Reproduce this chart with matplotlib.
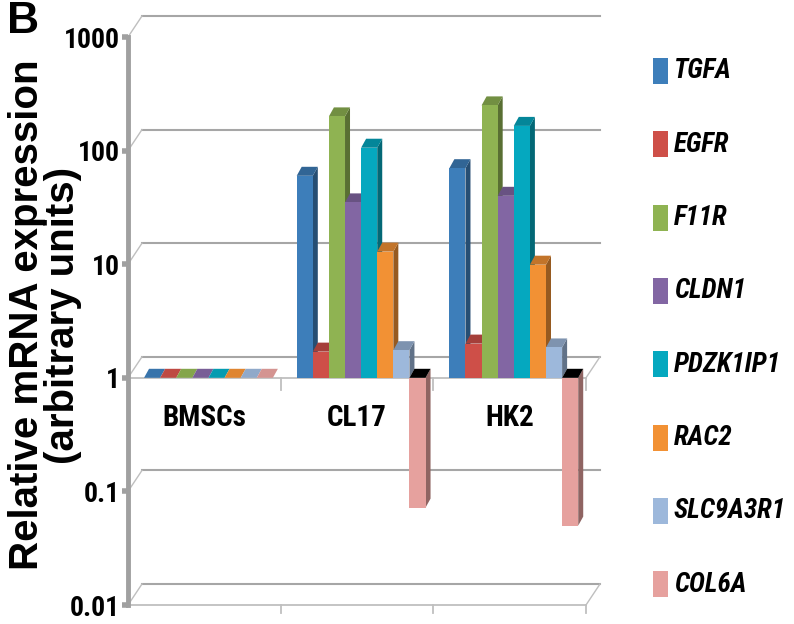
import matplotlib
matplotlib.use("Agg")
import matplotlib.pyplot as plt
import numpy as np
from matplotlib.patches import Polygon, Rectangle
from matplotlib.lines import Line2D
from matplotlib.transforms import IdentityTransform
import matplotlib.colors as mcolors

# data (relative expression, log axis, baseline 1)
groups = ["BMSCs", "CL17", "HK2"]
genes = ["TGFA", "EGFR", "F11R", "CLDN1", "PDZK1IP1", "RAC2", "SLC9A3R1", "COL6A"]
bmscs = [1, 1, 1, 1, 1, 1, 1, 1]
cl17 = [60, 1.7, 200, 35, 106, 12.9, 1.75, 0.072]
hk2 = [70, 2.0, 250, 40, 165, 9.9, 1.85, 0.050]
colors = ["#3D7EBA", "#CE4F48", "#8FB352", "#8266A3", "#05A8BF", "#F29134", "#9DB8DB", "#E6A19E"]
decades = [0.01, 0.1, 1, 10, 100, 1000]
dec_labels = ["0.01", "0.1", "1", "10", "100", "1000"]

narrow = ["Roboto Condensed", "IBM Plex Sans Condensed", "Liberation Sans Narrow", "DejaVu Sans"]
sans = ["Liberation Sans", "DejaVu Sans"]
W, H = 794, 624
fig = plt.figure(figsize=(W / 100, H / 100), dpi=100)
ax = fig.add_axes([128 / W, 19 / H, 458 / W, 568 / H])
ax.set_yscale("log")
ax.set_xlim(0, 3)
ax.set_ylim(0.01, 1000)
ax.set_autoscale_on(False)

for s in ["top", "right", "bottom"]:
    ax.spines[s].set_visible(False)
ax.spines["left"].set_color("#A0A0A0")
ax.spines["left"].set_linewidth(3.5)
ax.set_yticks(decades)
ax.set_yticklabels(dec_labels, fontfamily=narrow, fontweight="bold", fontsize=20)
ax.minorticks_off()
ax.tick_params(axis="y", length=4, width=4, color="#A0A0A0", pad=2)
ax.set_xticks([])

wall = np.array([14.0, 21.0])   # depth of the back wall (px)
depth = np.array([5.0, 9.0])    # depth of each column (px)


def px(x, y):
    return ax.transData.transform((x, y))


def line(pts, **kw):
    pts = np.array(pts)
    ax.add_artist(Line2D(pts[:, 0], pts[:, 1], transform=IdentityTransform(),
                         clip_on=False, **kw))


def poly(pts, color, z):
    ax.add_artist(Polygon(np.array(pts), closed=True, facecolor=color, edgecolor="none",
                          transform=IdentityTransform(), clip_on=False, zorder=z))


def shade(c, f):
    r, g, b = mcolors.to_rgb(c)
    return (r * f, g * f, b * f)


# back wall gridlines + left wall diagonals
for v in decades:
    a = px(0, v)
    b = px(3, v)
    line([a + wall, b + wall], color="#A6A6A6", lw=1.5, zorder=1)
    line([a, a + wall], color="#BFBFBF", lw=1.0, zorder=1)

# floors at 1 and 0.01 with category ticks
for v, tl in [(1, 12), (0.01, 8)]:
    a = px(0, v)
    b = px(3, v)
    line([a, b], color="#BFBFBF", lw=1.3, zorder=1)
    line([b, b + wall], color="#BFBFBF", lw=1.0, zorder=1)
    for x in [1, 2, 3]:
        p = px(x, v)
        line([p, p - [0, tl]], color="#BFBFBF", lw=1.3, zorder=1)

# columns
w = 0.1055
shift = 0.027
for i, vals in enumerate([bmscs, cl17, hk2]):
    for j, v in enumerate(vals):
        xc = i + 0.5 + (j - 3.5) * w + shift
        z = 3 + j * 0.01
        bar = ax.bar(xc, v - 1, width=w, bottom=1, color=colors[j], zorder=z + 0.002)[0]
        x0, x1 = bar.get_x(), bar.get_x() + bar.get_width()
        bl, br = px(x0, 1), px(x1, 1)
        tl_, tr = px(x0, v), px(x1, v)
        if v == 1:
            poly([bl, br, br + depth, bl + depth], shade(colors[j], 0.92), z)
        elif v > 1:
            poly([br, tr, tr + depth, br + depth], shade(colors[j], 0.62), z)
            poly([tl_, tr, tr + depth, tl_ + depth], shade(colors[j], 0.8), z + 0.001)
        else:
            poly([tr, br, br + depth, tr + depth], shade(colors[j], 0.62), z)
            poly([bl, br, br + depth, bl + depth], "black", z + 0.001)

# category labels
for i, g in enumerate(groups):
    p = px(i + 0.5, 1)
    ax.text(p[0], p[1] - 40, g, transform=IdentityTransform(), ha="center", va="center",
            fontfamily=narrow, fontweight="bold", fontsize=21)

# axis title and panel letter
fig.text(27 / W, 1 - 315 / H, "Relative mRNA expression", rotation=90, ha="center",
         va="center", fontfamily=sans, fontweight="bold", fontsize=29)
fig.text(63 / W, 1 - 315 / H, "(arbitrary units)", rotation=90, ha="center",
         va="center", fontfamily=sans, fontweight="bold", fontsize=29)
fig.text(7 / W, 1 - 1 / H, "B", ha="left", va="top",
         fontfamily=sans, fontweight="bold", fontsize=32)

# legend
for k, (g, c) in enumerate(zip(genes, colors)):
    yc = 1 - (71 + k * 73.3) / H
    fig.patches.append(Rectangle((653 / W, yc - 13 / H), 15 / W, 26 / H, facecolor=c,
                                 edgecolor="none", transform=fig.transFigure))
    fig.text(674 / W, yc, g, ha="left", va="center", fontfamily=narrow,
             fontweight="bold", fontstyle="italic", fontsize=19.5)

fig.savefig("out.png", dpi=100)
